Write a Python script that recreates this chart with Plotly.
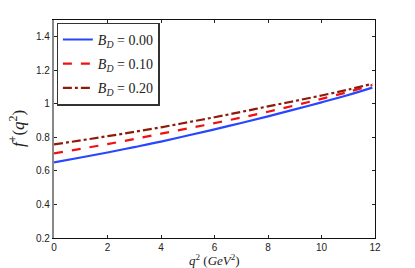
import plotly.graph_objects as go

q2 = [0, 1, 2, 3, 4, 5, 6, 7, 8, 9, 10, 11, 11.9]
f_b000 = [0.651, 0.680, 0.710, 0.742, 0.775, 0.811, 0.848, 0.886, 0.925, 0.967, 1.009, 1.053, 1.097]
f_b010 = [0.705, 0.732, 0.760, 0.790, 0.822, 0.853, 0.885, 0.918, 0.953, 0.991, 1.030, 1.071, 1.112]
f_b020 = [0.758, 0.782, 0.807, 0.833, 0.860, 0.890, 0.920, 0.952, 0.985, 1.017, 1.050, 1.085, 1.120]
legend_vals = ["0.00", "0.10", "0.20"]
xticks = [0, 2, 4, 6, 8, 10, 12]
yticks = [0.2, 0.4, 0.6, 0.8, 1, 1.2, 1.4]
yticktext = ["0.2", "0.4", "0.6", "0.8", "1", "1.2", "1.4"]

colors = ["#2846ff", "#ee1111", "#8e1a0a"]
dashes = ["solid", "dash", "dashdot"]
serif = "'Liberation Serif', 'DejaVu Serif', serif"

fig = go.Figure()
for i, (ys, v, c, d) in enumerate(zip([f_b000, f_b010, f_b020], legend_vals, colors, dashes)):
    fig.add_trace(go.Scatter(
        x=q2, y=ys, mode="lines", legendgroup=f"g{i}",
        name=f"<i>B</i><sub><i>D</i></sub> = {v}",
        line=dict(color=c, width=2.2, dash=d, shape="spline"),
    ))

# invisible trace for top/right frame axes
fig.add_trace(go.Scatter(x=[0, 12], y=[0.2, 1.5], xaxis="x2", yaxis="y2",
                         mode="markers", marker=dict(opacity=0), showlegend=False,
                         hoverinfo="skip"))

fig.update_layout(
    width=415, height=268,
    margin=dict(l=54, r=40, t=20, b=30),
    paper_bgcolor="white", plot_bgcolor="white",
    font=dict(family="Liberation Sans, Arial, sans-serif", size=10, color="#222"),
    showlegend=True,
    legend=dict(
        x=0.008, y=0.988, xanchor="left", yanchor="top",
        bgcolor="white", bordercolor="#333", borderwidth=1.3,
        font=dict(family=serif, size=14, color="#222"),
        tracegroupgap=3, itemwidth=30,
    ),
    xaxis=dict(
        range=[0, 12], tickvals=xticks, ticks="inside", ticklen=3,
        tickcolor="#222", showline=True, linecolor="#111", linewidth=1.2,
        showgrid=False, zeroline=False,
    ),
    yaxis=dict(
        range=[0.2, 1.5], tickvals=yticks, ticktext=yticktext,
        ticks="inside", ticklen=3, tickcolor="#222",
        showline=True, linecolor="#888", linewidth=2.2,
        showgrid=False, zeroline=False,
    ),
    xaxis2=dict(
        range=[0, 12], tickvals=xticks, ticks="inside", ticklen=3, tickcolor="#222",
        overlaying="x", side="top", showticklabels=False,
        showline=True, linecolor="#111", linewidth=1.2, showgrid=False, zeroline=False,
    ),
    yaxis2=dict(
        range=[0.2, 1.5], tickvals=yticks, ticks="inside", ticklen=3, tickcolor="#222",
        overlaying="y", side="right", showticklabels=False,
        showline=True, linecolor="#111", linewidth=1.2, showgrid=False, zeroline=False,
    ),
    annotations=[
        dict(text="<i>q</i><sup>2</sup> (<i>GeV</i><sup>2</sup>)", xref="paper", yref="paper",
             x=0.5, y=0, xanchor="center", yanchor="middle", yshift=-21.5, showarrow=False,
             font=dict(family=serif, size=13, color="#222")),
        dict(text="<i>f</i><sup>+</sup>(<i>q</i><sup>2</sup>)", xref="paper", yref="paper",
             x=0, y=0.5, xanchor="right", yanchor="middle", xshift=-24, textangle=-90,
             showarrow=False, font=dict(family=serif, size=17, color="#222")),
    ],
)

fig.write_html("out.html", config={"displayModeBar": False},
               post_script="document.body.style.margin='0';")
